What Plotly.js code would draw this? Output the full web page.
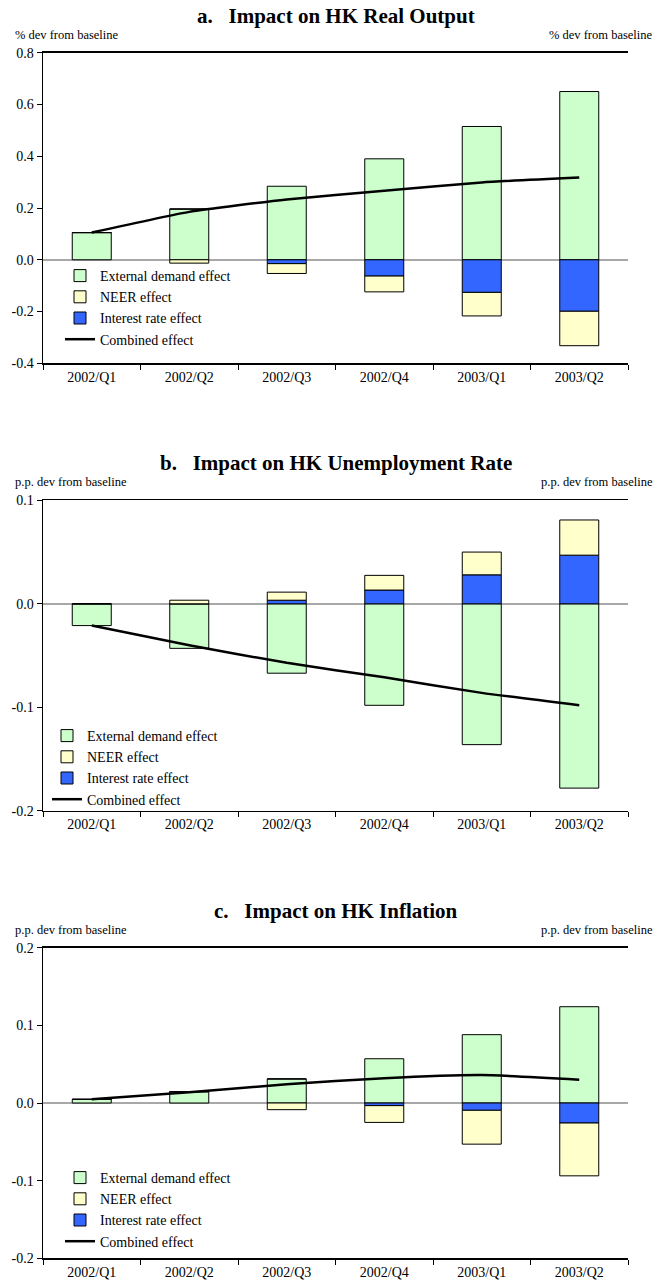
<!DOCTYPE html>
<html>
<head>
<meta charset="utf-8">
<script src="https://cdn.plot.ly/plotly-3.0.1.min.js"></script>
<style>
  html, body { margin: 0; padding: 0; background: #ffffff; }
  #chart { width: 661px; height: 1288px; }
</style>
</head>
<body>
<div id="chart"></div>
<script>
// Quarters on the horizontal axis
const quarters = ['2002/Q1', '2002/Q2', '2002/Q3', '2002/Q4', '2003/Q1', '2003/Q2'];

// a. Real output (% deviation from baseline)
const outputExternal = [0.105, 0.196, 0.284, 0.390, 0.515, 0.650];
const outputRate     = [0, 0, -0.015, -0.063, -0.126, -0.199];
const outputNeer     = [0, -0.013, -0.038, -0.061, -0.091, -0.133];
const outputCombined = [0.105, 0.185, 0.233, 0.267, 0.299, 0.318];

// b. Unemployment rate (p.p. deviation from baseline)
const unempExternal = [-0.021, -0.043, -0.067, -0.098, -0.136, -0.178];
const unempRate     = [0, 0, 0.0035, 0.0133, 0.028, 0.047];
const unempNeer     = [0, 0.0035, 0.0078, 0.0142, 0.022, 0.034];
const unempCombined = [-0.021, -0.040, -0.057, -0.071, -0.086, -0.098];

// c. Inflation (p.p. deviation from baseline)
const inflExternal = [0.0047, 0.0146, 0.031, 0.057, 0.088, 0.124];
const inflRate     = [0, 0, 0, -0.0034, -0.0094, -0.0258];
const inflNeer     = [0, 0, -0.0086, -0.0216, -0.0436, -0.068];
const inflCombined = [0.0047, 0.014, 0.024, 0.032, 0.036, 0.030];

// Value-axis ticks (labels use a plain hyphen for negatives)
const outputTicks = [-0.4, -0.2, 0, 0.2, 0.4, 0.6, 0.8];
const outputTickText = ['-0.4', '-0.2', '0.0', '0.2', '0.4', '0.6', '0.8'];
const unempTicks = [-0.2, -0.1, 0, 0.1];
const unempTickText = ['-0.2', '-0.1', '0.0', '0.1'];
const inflTicks = [-0.2, -0.1, 0, 0.1, 0.2];
const inflTickText = ['-0.2', '-0.1', '0.0', '0.1', '0.2'];

const panelTitles = ['a.\u00a0\u00a0\u00a0Impact on HK Real Output',
                     'b.\u00a0\u00a0\u00a0Impact on HK Unemployment Rate',
                     'c.\u00a0\u00a0\u00a0Impact on HK Inflation'];
const unitLabels = ['% dev from baseline', 'p.p. dev from baseline', 'p.p. dev from baseline'];
const yRanges = [[-0.4, 0.8], [-0.2, 0.1], [-0.2, 0.2]];
const yTicks = [[outputTicks, outputTickText], [unempTicks, unempTickText], [inflTicks, inflTickText]];

const seriesNames = ['External demand effect', 'NEER effect', 'Interest rate effect', 'Combined effect'];
const colExternal = '#CCFFCC';
const colNeer = '#FFFFCC';
const colRate = '#3366FF';

const panels = [
  [outputExternal, outputRate, outputNeer, outputCombined],
  [unempExternal, unempRate, unempNeer, unempCombined],
  [inflExternal, inflRate, inflNeer, inflCombined]
];

// Pixel geometry of the figure
const W = 661, H = 1288;
const plotLeft = 43, plotRight = 628;
const plotTops = [52.7, 500.3, 947.7];
const plotHeight = 310.6;
const legendPos = [[60, 260], [47, 720], [60, 1162]];

const FONT = 'Liberation Serif';
const px2x = v => v / W;
const px2y = v => 1 - v / H;

const traces = [];
const layout = {
  width: W, height: H,
  margin: {l: 0, r: 0, t: 0, b: 0, autoexpand: false},
  paper_bgcolor: '#ffffff', plot_bgcolor: '#ffffff',
  barmode: 'relative', bargap: 0.6,
  font: {family: FONT, size: 13, color: '#000'},
  showlegend: true,
  annotations: []
};

panels.forEach((p, i) => {
  const xa = i === 0 ? 'x' : 'x' + (i + 1);
  const yl = i === 0 ? 'y' : 'y' + (2 * i + 1);
  const legendId = i === 0 ? 'legend' : 'legend' + (i + 1);
  const [ext, rate, neer, comb] = p;

  traces.push({type: 'bar', x: quarters, y: ext, xaxis: xa, yaxis: yl, name: seriesNames[0],
    legend: legendId, legendrank: 1,
    marker: {color: colExternal, line: {color: '#000', width: 1}}, hoverinfo: 'skip'});
  traces.push({type: 'bar', x: quarters, y: rate, xaxis: xa, yaxis: yl, name: seriesNames[2],
    legend: legendId, legendrank: 3,
    marker: {color: colRate, line: {color: '#000', width: 1}}, hoverinfo: 'skip'});
  traces.push({type: 'bar', x: quarters, y: neer, xaxis: xa, yaxis: yl, name: seriesNames[1],
    legend: legendId, legendrank: 2,
    marker: {color: colNeer, line: {color: '#000', width: 1}}, hoverinfo: 'skip'});
  traces.push({type: 'scatter', mode: 'lines', x: quarters, y: comb, xaxis: xa, yaxis: yl,
    name: seriesNames[3], legend: legendId, legendrank: 4,
    line: {color: '#000', width: 2.5, shape: 'spline', smoothing: 0.5}, hoverinfo: 'skip'});

  const top = plotTops[i], bottom = top + plotHeight;
  const yDomain = [px2y(bottom), px2y(top)];
  const xKey = i === 0 ? 'xaxis' : 'xaxis' + (i + 1);
  const ylKey = i === 0 ? 'yaxis' : 'yaxis' + (2 * i + 1);
  const yrKey = 'yaxis' + (2 * i + 2);
  const [tv, tt] = yTicks[i];

  layout[xKey] = {
    domain: [px2x(plotLeft), px2x(plotRight)], anchor: yl,
    type: 'category', tickson: 'boundaries', ticks: 'outside', ticklen: 5,
    tickcolor: '#000', tickwidth: 1,
    showline: true, linecolor: '#000', linewidth: 1.5, mirror: true,
    showgrid: false, zeroline: false, fixedrange: true,
    tickfont: {family: FONT, size: 14, color: '#000'}
  };
  layout[ylKey] = {
    domain: yDomain, anchor: xa, range: yRanges[i],
    tickmode: 'array', tickvals: tv, ticktext: tt,
    ticks: 'outside', ticklen: 5, tickcolor: '#000', tickwidth: 1,
    showline: true, linecolor: '#000', linewidth: 1.5,
    showgrid: false, zeroline: true, zerolinecolor: '#A8A8A8', zerolinewidth: 1.8,
    fixedrange: true, tickfont: {family: FONT, size: 14, color: '#000'}
  };
  layout[yrKey] = {
    domain: yDomain, anchor: xa, overlaying: yl, side: 'right', range: yRanges[i],
    tickmode: 'array', tickvals: tv, ticktext: tt,
    ticks: 'outside', ticklen: 5, tickcolor: '#555', tickwidth: 1,
    showline: true, linecolor: '#555', linewidth: 2,
    showgrid: false, zeroline: false, fixedrange: true,
    tickfont: {family: FONT, size: 14, color: '#000'}
  };

  layout[legendId] = {
    x: px2x(legendPos[i][0]), y: px2y(legendPos[i][1]), xanchor: 'left', yanchor: 'top',
    xref: 'paper', yref: 'paper', bgcolor: 'rgba(0,0,0,0)', borderwidth: 0,
    font: {family: FONT, size: 14, color: '#000'}, traceorder: 'normal',
    itemclick: false, itemdoubleclick: false
  };

  layout.annotations.push({
    text: '<b>' + panelTitles[i] + '</b>', xref: 'paper', yref: 'paper',
    x: px2x((plotLeft + plotRight) / 2), y: px2y(top - 37), xanchor: 'center', yanchor: 'middle',
    showarrow: false, font: {family: FONT, size: 21, color: '#000'}
  });
  layout.annotations.push({
    text: unitLabels[i], xref: 'paper', yref: 'paper',
    x: px2x(13), y: px2y(top - 18), xanchor: 'left', yanchor: 'middle',
    showarrow: false, font: {family: FONT, size: 12.5, color: '#000'}
  });
  layout.annotations.push({
    text: unitLabels[i], xref: 'paper', yref: 'paper',
    x: px2x(655), y: px2y(top - 18), xanchor: 'right', yanchor: 'middle',
    showarrow: false, font: {family: FONT, size: 12.5, color: '#000'}
  });
});

Plotly.newPlot('chart', traces, layout, {staticPlot: true, displayModeBar: false});
</script>
</body>
</html>
